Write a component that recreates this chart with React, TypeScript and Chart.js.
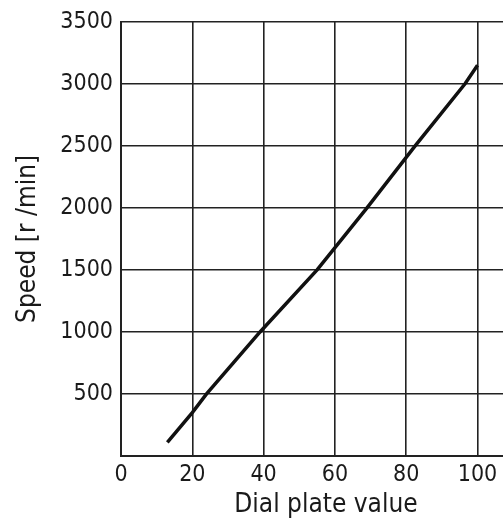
import React, { useEffect, useRef } from "react";
import { Chart, registerables } from "chart.js";

Chart.register(...registerables);

const dialValues = [13, 20, 24, 39, 55, 69, 82.5, 96.5, 100];
const speedValues = [110, 350, 500, 1000, 1500, 2000, 2500, 3000, 3150];
const xTickValues = [0, 20, 40, 60, 80, 100];
const yTickValues = [500, 1000, 1500, 2000, 2500, 3000, 3500];

const FONT = "'DejaVu Sans Condensed', 'Liberation Sans Narrow', sans-serif";

export default function App() {
  const ref = useRef<HTMLCanvasElement | null>(null);

  useEffect(() => {
    if (!ref.current) return;
    const chart = new Chart(ref.current, {
      type: "line",
      data: {
        datasets: [
          {
            data: dialValues.map((x, i) => ({ x, y: speedValues[i] })),
            borderColor: "#111",
            borderWidth: 3.5,
            pointRadius: 0,
            tension: 0,
            fill: false,
          },
        ],
      },
      options: {
        animation: false,
        responsive: false,
        maintainAspectRatio: false,
        layout: { autoPadding: false, padding: { top: 20, right: 0, left: 0, bottom: 0 } },
        plugins: { legend: { display: false }, tooltip: { enabled: false } },
        scales: {
          x: {
            type: "linear",
            min: 0,
            max: 115,
            afterBuildTicks: (scale: any) => {
              scale.ticks = xTickValues.map((v) => ({ value: v }));
            },
            afterFit: (scale: any) => {
              scale.height = 67;
            },
            grid: { color: "#222", lineWidth: 1.6, drawTicks: false },
            border: { color: "#222", width: 2 },
            ticks: {
              padding: 5,
              color: "#1a1a1a",
              font: { family: FONT, size: 23 },
              maxRotation: 0,
            },
            title: {
              display: true,
              text: "Dial plate value",
              color: "#1a1a1a",
              font: { family: FONT, size: 26 },
              padding: { top: 0, bottom: 2 },
            },
          },
          y: {
            type: "linear",
            min: 0,
            max: 3500,
            afterBuildTicks: (scale: any) => {
              scale.ticks = [0, ...yTickValues].map((v) => ({ value: v }));
            },
            afterFit: (scale: any) => {
              scale.width = 121;
            },
            grid: { color: "#222", lineWidth: 1.6, drawTicks: false },
            border: { color: "#222", width: 2 },
            ticks: {
              padding: 8,
              color: "#1a1a1a",
              font: { family: FONT, size: 23 },
              callback: (v: any) => (v === 0 ? "" : String(v)),
            },
            title: {
              display: true,
              text: "Speed [r /min]",
              color: "#1a1a1a",
              font: { family: FONT, size: 26 },
              padding: { top: 13, bottom: 0 },
            },
          },
        },
      },
    });
    return () => chart.destroy();
  }, []);

  return (
    <div style={{ position: "fixed", left: 0, top: 0, width: 503, height: 523, overflow: "hidden", background: "#fff" }}>
      <canvas ref={ref} width={531} height={523} style={{ display: "block", width: 531, height: 523 }} />
    </div>
  );
}
